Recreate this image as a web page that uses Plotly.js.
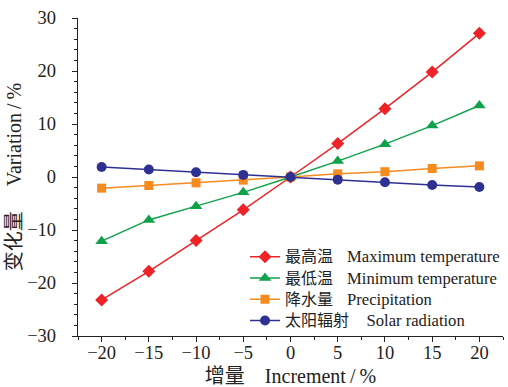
<!DOCTYPE html>
<html>
<head>
<meta charset="utf-8">
<script src="https://cdn.plot.ly/plotly-3.0.1.min.js"></script>
<style>
  html, body { margin: 0; padding: 0; background: #fff; }
  #chart { width: 508px; height: 387px; }
</style>
</head>
<body>
<div id="chart"></div>
<script>
// Increment applied to each climate factor (%)
const increments = [-20, -15, -10, -5, 0, 5, 10, 15, 20];

// Resulting variation (%) for each factor
const maxTemp   = [-23.2, -17.8, -12.0, -6.2, 0, 6.3, 12.9, 19.8, 27.1];
const minTemp   = [-12.1, -8.1, -5.5, -2.9, 0, 3.0, 6.2, 9.7, 13.5];
const precip    = [-2.1, -1.6, -1.1, -0.6, 0, 0.6, 1.0, 1.6, 2.1];
const solarRad  = [1.9, 1.4, 0.9, 0.4, 0, -0.5, -1.0, -1.5, -1.9];

// Bilingual legend labels
const namesZh = ['最高温', '最低温', '降水量', '太阳辐射'];
const namesEn = ['Maximum temperature', 'Minimum temperature', 'Precipitation', 'Solar radiation'];
const enGap = ['\u00a0\u00a0\u00a0\u00a0', '\u00a0\u00a0\u00a0\u00a0', '\u00a0\u00a0\u00a0\u00a0', '\u00a0\u00a0\u00a0\u00a0\u00a0'];

const xTickVals = [-20, -15, -10, -5, 0, 5, 10, 15, 20];
const xTickText = ['\u221220', '\u221215', '\u221210', '\u22125', '0', '5', '10', '15', '20'];
const yTickVals = [-30, -20, -10, 0, 10, 20, 30];
const yTickText = ['\u221230', '\u221220', '\u221210', '0', '10', '20', '30'];

const FONT = '"Liberation Serif", "Times New Roman", "Noto Sans CJK SC", serif';

function legendLabel(i) {
  return '<span style="font-size:16px">' + namesZh[i] + '</span>' + enGap[i] +
         '<span style="font-size:16.6px">' + namesEn[i] + '</span>';
}

function series(y, i, color, symbol, size) {
  return {
    x: increments, y: y, name: legendLabel(i), type: 'scatter', mode: 'lines+markers',
    line: { color: color, width: 1.5 },
    marker: { color: color, symbol: symbol, size: size }
  };
}

const data = [
  series(maxTemp, 0, '#ee2227', 'diamond', 10),
  series(minTemp, 1, '#0fa24b', 'triangle-up', 11),
  series(precip, 2, '#f68b1f', 'square', 9),
  series(solarRad, 3, '#2e3192', 'circle', 10)
];

const layout = {
  width: 508, height: 387,
  margin: { l: 78, r: 3, t: 18, b: 51 },
  paper_bgcolor: '#fff', plot_bgcolor: '#fff',
  font: { family: FONT, color: '#222', size: 17 },
  showlegend: true,
  legend: {
    x: 0.393, y: 0.298, xanchor: 'left', yanchor: 'top',
    bgcolor: 'rgba(0,0,0,0)', borderwidth: 0,
    font: { family: FONT, size: 14, color: '#222' },
    tracegroupgap: 0, itemwidth: 30
  },
  xaxis: {
    range: [-22.5, 22.5],
    tickmode: 'array', tickvals: xTickVals, ticktext: xTickText,
    ticks: 'outside', ticklen: 5, tickwidth: 1, tickcolor: '#222',
    ticklabelstandoff: -5,
    minor: { dtick: 2.5, tick0: 0, ticks: 'outside', ticklen: 3, tickwidth: 1, tickcolor: '#222' },
    showline: true, linecolor: '#222', linewidth: 1.2,
    showgrid: false, zeroline: false,
    tickfont: { family: FONT, size: 18.5, color: '#222' },
    title: { text: '增量\u00a0\u00a0\u00a0\u00a0Increment\u2009/\u2009%', font: { family: FONT, size: 20, color: '#222' }, standoff: 13 }
  },
  yaxis: {
    range: [-30, 30],
    tickmode: 'array', tickvals: yTickVals, ticktext: yTickText,
    ticks: 'outside', ticklen: 5, tickwidth: 1, tickcolor: '#222',
    ticklabelstandoff: 12,
    minor: { dtick: 2, tick0: 0, ticks: 'outside', ticklen: 3, tickwidth: 1, tickcolor: '#222' },
    showline: true, linecolor: '#222', linewidth: 1.2,
    showgrid: false, zeroline: false,
    tickfont: { family: FONT, size: 18.5, color: '#222' },
    title: { text: '变化量\u00a0\u00a0\u00a0\u00a0\u00a0Variation\u2009/\u2009%', font: { family: FONT, size: 20, color: '#222' }, standoff: 0 }
  }
};

Plotly.newPlot('chart', data, layout, { displayModeBar: false, staticPlot: true });
</script>
</body>
</html>
